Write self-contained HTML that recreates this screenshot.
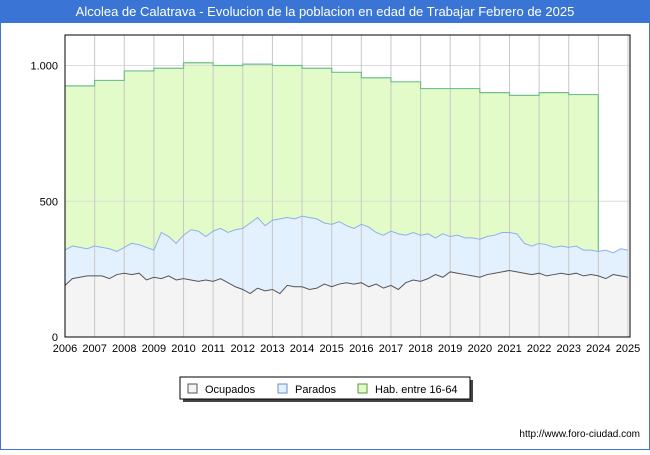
<!DOCTYPE html>
<html><head><meta charset="utf-8"><style>
body{margin:0;width:650px;height:450px;overflow:hidden;background:#fff;font-family:"Liberation Sans",sans-serif}
</style></head><body>
<svg width="650" height="450" xmlns="http://www.w3.org/2000/svg">
<rect x="0.5" y="0.5" width="649" height="449" fill="#fff" stroke="#3a75d5"/>
<rect x="0" y="0" width="650" height="23" fill="#3a75d5"/>
<text x="325" y="16" text-anchor="middle" fill="#fff" font-size="13">Alcolea de Calatrava - Evolucion de la poblacion en edad de Trabajar Febrero de 2025</text>
<g id="plot"></g>
<g>
<rect x="183" y="380" width="290" height="22" fill="#444"/>
<rect x="180" y="377" width="290" height="22" fill="#fff" stroke="#000"/>
<rect x="188" y="384" width="9" height="9" fill="#f4f4f4" stroke="#555"/>
<text x="205" y="393" font-size="11">Ocupados</text>
<rect x="278" y="384" width="9" height="9" fill="#e3f0fd" stroke="#6a8fd0"/>
<text x="295" y="393" font-size="11">Parados</text>
<rect x="358" y="384" width="9" height="9" fill="#e2fbc8" stroke="#5a9a40"/>
<text x="375" y="393" font-size="11">Hab. entre 16-64</text>
</g>
<text x="640" y="437" text-anchor="end" font-size="10">http://www.foro-ciudad.com</text>
</svg>
<script>
const years=[2006,2007,2008,2009,2010,2011,2012,2013,2014,2015,2016,2017,2018,2019,2020,2021,2022,2023,2024,2025];
const yTicks=[0,500,1000];
const yTickLabels=["0","500","1.000"];
const hab=[925,945,980,990,1010,1000,1005,1000,990,975,955,940,915,915,900,890,900,893];
const parados=[320,335,330,325,335,330,325,315,330,345,340,330,320,385,370,345,375,395,390,370,390,400,385,395,400,420,440,410,430,435,440,435,445,440,435,420,415,425,410,400,415,405,385,375,390,380,375,385,375,380,365,380,370,375,365,365,360,370,375,385,385,380,345,335,345,340,330,335,330,335,320,320,315,320,310,325,320];
const ocupados=[190,215,220,225,225,225,215,230,235,230,235,210,220,215,225,210,215,210,205,210,205,215,200,185,175,160,180,170,175,160,190,185,185,175,180,195,185,195,200,195,200,185,195,180,190,175,200,210,205,215,230,220,240,235,230,225,220,230,235,240,245,240,235,230,235,225,230,235,230,235,225,230,225,215,230,225,220];
const L=65,R=630,T=35,B=337;
const xs=y=>L+(y-2006)*(628-L)/19;
const ys=v=>B-v*0.2715;
const NS="http://www.w3.org/2000/svg";
const g=document.getElementById('plot');
function mk(t,a){const e=document.createElementNS(NS,t);for(const k in a)e.setAttribute(k,a[k]);g.appendChild(e);return e;}
let bg=mk('rect',{x:L,y:T,width:R-L,height:B-T,fill:'#fff'});


// hab step area
let hp=`M${xs(2006)},${ys(parados[0])}`,hl='';
hab.forEach((v,i)=>{hp+=` L${xs(2006+i)},${ys(v)} L${xs(2007+i)},${ys(v)}`;hl+=(i?' L':'M')+`${xs(2006+i)},${ys(v)} L${xs(2007+i)},${ys(v)}`;});
hl+=` L${xs(2024)},${ys(parados[72])}`;
for(let i=72;i>=0;i--)hp+=` L${xs(2006+i/4)},${ys(parados[i])}`;
let ha=mk('path',{d:hp+'Z',fill:'#e2fbc8'});


let pp=`M${xs(2006)},${ys(0)}`,pl='';
parados.forEach((v,i)=>{pp+=` L${xs(2006+i/4)},${ys(v)}`;pl+=(i?' L':'M')+`${xs(2006+i/4)},${ys(v)}`;});
pp+=` L${xs(2025)},${ys(0)}Z`;
let pa=mk('path',{d:pp,fill:'#e3f0fd'});


let op=`M${xs(2006)},${ys(0)}`,ol='';
ocupados.forEach((v,i)=>{op+=` L${xs(2006+i/4)},${ys(v)}`;ol+=(i?' L':'M')+`${xs(2006+i/4)},${ys(v)}`;});
op+=` L${xs(2025)},${ys(0)}Z`;
let oa=mk('path',{d:op,fill:'#f4f4f4'});


yTicks.forEach((t,i)=>{
 let l=mk('line',{x1:L,x2:R,y1:ys(t),y2:ys(t),stroke:'#ddd'});
 
 
 let tx=mk('text',{x:L-7,y:ys(t)+4,'text-anchor':'end','font-size':11});
 tx.textContent=yTickLabels[i];
 
 
});
years.forEach(y=>{
 let l=mk('line',{x1:xs(y),x2:xs(y),y1:T,y2:B,stroke:'#c8c8c8'});
 
 
 let tx=mk('text',{x:xs(y),y:B+15,'text-anchor':'middle','font-size':11});
 tx.textContent=y;
 
 
});
let hL=mk('path',{d:hl,fill:'none',stroke:'#70c090','stroke-width':1.2});


let pL=mk('path',{d:pl,fill:'none',stroke:'#8fb0e8','stroke-width':1});


let oL=mk('path',{d:ol,fill:'none',stroke:'#555','stroke-width':1});


let bx=mk('rect',{x:L,y:T,width:R-L,height:B-T,fill:'none',stroke:'#000'});


</script>
</body></html>
